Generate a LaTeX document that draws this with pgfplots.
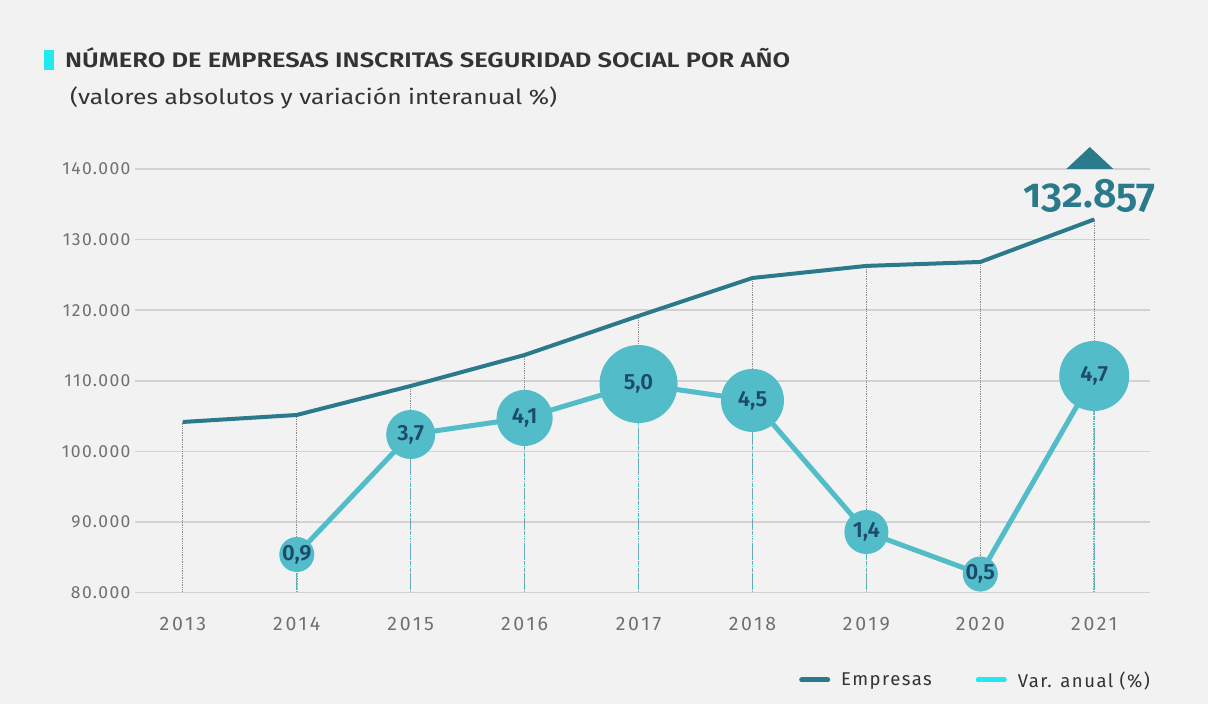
\documentclass[border=0pt]{standalone}
\usepackage{fontspec}
\setmainfont{Fira Sans}
\newfontfamily\tickfont[LetterSpace=8]{Fira Sans}
\newfontfamily\xtickfont[LetterSpace=14]{Fira Sans}
\newfontfamily\semib{Fira Sans SemiBold}
\newfontfamily\bigfont[Numbers=OldStyle]{Fira Sans SemiBold}
\usepackage{pgfplots}
\usepackage{graphicx}
\pgfplotsset{compat=1.18}
\definecolor{bg}{HTML}{F2F2F2}
\definecolor{dark}{HTML}{2B7A8B}
\definecolor{bub}{HTML}{52BCC8}
\definecolor{navy}{HTML}{1F4B6B}
\definecolor{cyanb}{HTML}{22E8EF}
\definecolor{gridc}{HTML}{D2D2D2}
\definecolor{tickc}{HTML}{707070}
\definecolor{titc}{HTML}{333333}
\pgfplotstableread{
x y
0 104160
1 105150
2 109260
3 113650
4 119180
5 124560
6 126270
7 126830
8 132857
}\empresas
\pgfplotstableread{
x y r lab
1 85385 17.5 {0,9}
2 102390 24.5 {3,7}
3 104730 28 {4,1}
4 109540 39 {5,0}
5 107210 31.5 {4,5}
6 88570 22 {1,4}
7 82620 17 {0,5}
8 110680 35 {4,7}
}\var
\begin{document}
\begin{tikzpicture}
\fill[bg] (0,0) rectangle (1208pt,704pt);
\fill[cyanb] (44pt,634pt) rectangle (54pt,654pt);
\node[anchor=base west, inner sep=0, text=titc] at (65pt,636pt)
  {\resizebox{725pt}{\height}{\fontsize{21}{21}\selectfont\semib NÚMERO DE EMPRESAS INSCRITAS SEGURIDAD SOCIAL POR AÑO}};
\node[anchor=base west, inner sep=0, text=titc] at (70pt,599pt)
  {\resizebox{487pt}{\height}{\fontsize{21}{21}\selectfont (valores absolutos y variación interanual \%)}};
\begin{axis}[
  at={(135pt,111.5pt)}, anchor=south west,
  scale only axis, width=1015pt, height=423.5pt,
  xmin=-0.42, xmax=8.49, ymin=80000, ymax=140000,
  scaled y ticks=false,
  clip mode=individual,
  axis line style={draw=none},
  major tick length=0pt,
  ymajorgrids, grid style={gridc, line width=1.6pt},
  ytick={80000,90000,100000,110000,120000,130000,140000},
  yticklabels={80.000,90.000,100.000,110.000,120.000,130.000,140.000},
  xtick={0,...,8},
  xticklabels={2013,2014,2015,2016,2017,2018,2019,2020,2021},
  yticklabel style={font=\tickfont\fontsize{17.5}{17.5}\selectfont, text=tickc, xshift=-1pt},
  xticklabel style={font=\xtickfont\fontsize{19.5}{19.5}\selectfont, text=tickc, yshift=-21pt},
  legend columns=2,
  legend style={draw=none, fill=none, at={(1.005,-0.2066)}, anchor=east,
    font=\tickfont\fontsize{18.5}{18.5}\selectfont, text=titc,
    /tikz/every odd column/.append style={column sep=9pt},
    /tikz/every even column/.append style={column sep=42pt}},
  legend image code/.code={\draw[#1] (0pt,0pt) -- (26pt,0pt);},
]
\addlegendimage{dark, line width=5pt, line cap=round}
\addlegendentry{Empresas}
\addlegendimage{cyanb, line width=5pt, line cap=round}
\addlegendentry{Var. anual (\%)}
% dotted drop lines
\addplot[ycomb, forget plot, draw=gray!90, densely dotted, line width=1.3pt, mark=none] table[x=x,y=y]{\empresas};
\addplot[ycomb, forget plot, draw=bub, densely dotted, line width=1.5pt, mark=none] table[x=x,y=y]{\var};
% lines
\addplot[forget plot, dark, line width=4pt, mark=none, line join=round] table[x=x,y=y]{\empresas};
\addplot[forget plot, bub, line width=5pt, mark=none, line join=round] table[x=x,y=y]{\var};
% bubbles with labels
\addplot[forget plot, draw=none, mark=none, nodes near coords,
  point meta=explicit symbolic,
  visualization depends on={\thisrow{r} \as \rad},
  nodes near coords style={circle, fill=bub, inner sep=0pt, minimum size={2*\rad pt},
    anchor=center, text=navy, font=\fontsize{22}{22}\selectfont\semib}]
  table[x=x,y=y,meta=lab]{\var};
\fill[dark] (axis cs:7.755,140000) -- (axis cs:8.168,140000) -- (axis cs:7.961,140000+22*141.7) -- cycle;
\node[text=dark, font=\bigfont\fontsize{41}{41}\selectfont] at (axis cs:7.96,136200) {132.857};
\end{axis}
\end{tikzpicture}
\end{document}
